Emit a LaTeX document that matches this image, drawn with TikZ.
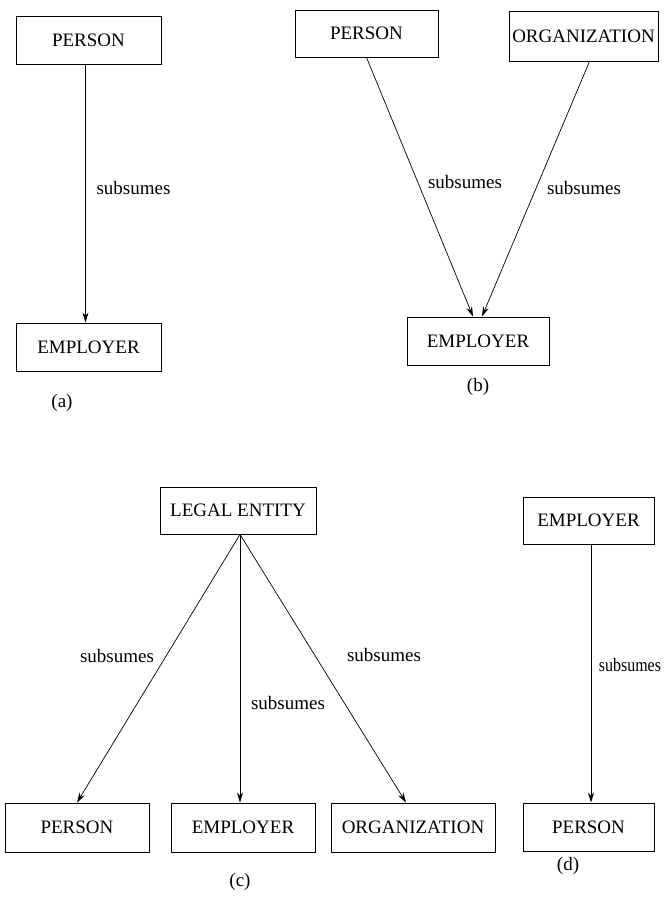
\documentclass[tikz,border=0pt]{standalone}
\usepackage{fontspec}
\setmainfont{Liberation Serif}
\usetikzlibrary{arrows.meta}
\begin{document}
\begin{tikzpicture}[x=1pt,y=-1pt,
  every node/.style={font=\fontsize{19}{22}\selectfont, inner sep=0pt},
  entity/.style={draw, line width=0.9pt, minimum height=48pt},
  rel/.style={line width=0.7pt, -{Stealth[length=10pt,width=6pt]}},
  caption/.style={}]
\useasboundingbox (0,0) rectangle (668,897);

% (a) single subsumption
\node[entity, minimum width=145pt] (pa) at (88.5,40) {PERSON};
\node[entity, minimum width=145pt] (ea) at (88.5,347) {EMPLOYER};
\node at (133.5,188) (sa) {subsumes};
\node[caption] (capa) at (62,403) {(a)};
\draw[rel] ([xshift=-3pt]pa.south) -- ([xshift=-3pt]ea.north);

% (b) two subsumers
\node[entity, minimum width=143pt, minimum height=47pt] (pb) at (366.5,33.5) {PERSON};
\node[entity, minimum width=149pt, minimum height=50pt] (ob) at (583.5,36) {ORGANIZATION};
\node[entity, minimum width=142pt] (eb) at (478,341) {EMPLOYER};
\node (sb1) at (465,182) {subsumes};
\node (sb2) at (584,188) {subsumes};
\node[caption] (capb) at (478,387) {(b)};
\draw[rel] (pb.south) -- ([xshift=-5pt]eb.north);
\draw[rel] ([xshift=6pt]ob.south) -- ([xshift=4pt]eb.north);

% (c) common supertype
\node[entity, minimum width=156pt, minimum height=47pt] (le) at (238,510.5) {LEGAL ENTITY};
\node[entity, minimum width=144pt, minimum height=49pt] (pc) at (77,827.5) {PERSON};
\node[entity, minimum width=144pt, minimum height=49pt] (ec) at (243,827.5) {EMPLOYER};
\node[entity, minimum width=164pt, minimum height=49pt] (oc) at (413,827.5) {ORGANIZATION};
\node (sc1) at (117,656) {subsumes};
\node (sc2) at (288,703) {subsumes};
\node (sc3) at (384,655) {subsumes};
\node[caption] (capc) at (240,882) {(c)};
\draw[rel] ([xshift=2pt]le.south) -- (pc.north);
\draw[rel] ([xshift=2pt]le.south) -- ([xshift=-3pt]ec.north);
\draw[rel] ([xshift=2pt]le.south) -- ([xshift=-7pt]oc.north);

% (d) reversed subsumption
\node[entity, minimum width=131pt, minimum height=47pt] (ed) at (588.5,520.5) {EMPLOYER};
\node[entity, minimum width=131pt] (pd) at (588.5,827) {PERSON};
\node[xscale=0.84] (sd) at (630,665) {subsumes};
\node[caption] (capd) at (568,866) {(d)};
\draw[rel] ([xshift=2.5pt]ed.south) -- ([xshift=2.5pt]pd.north);
\end{tikzpicture}
\end{document}
